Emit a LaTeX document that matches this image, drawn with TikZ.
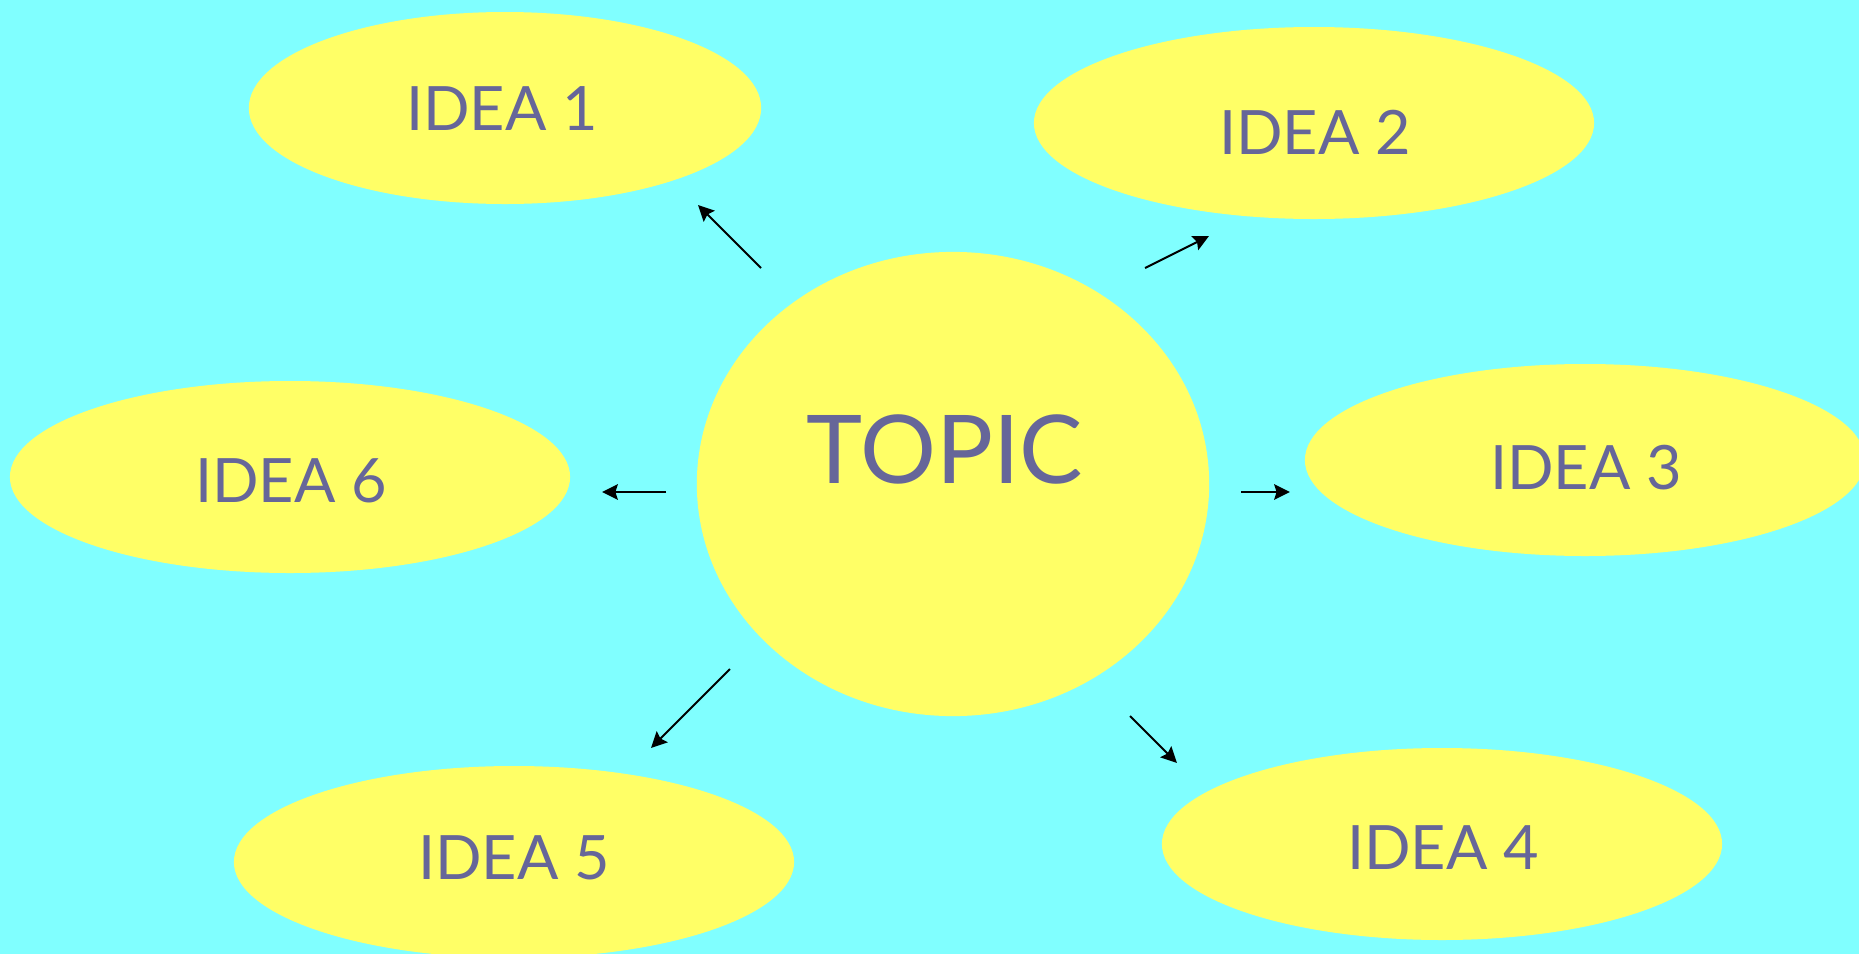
\documentclass[tikz,border=0pt]{standalone}
\usepackage{fontspec}
\setmainfont{Lato}
\usetikzlibrary{shapes.geometric,arrows.meta}
\definecolor{bgcyan}{HTML}{80FFFF}
\definecolor{ideayellow}{HTML}{FFFF66}
\definecolor{ideatext}{HTML}{666699}
\tikzset{
  idea/.style={ellipse, fill=ideayellow, inner sep=0pt, minimum width=159.3pt, minimum height=54.6pt},
  link/.style={line width=0.57pt, -{Stealth[length=4.5pt, width=4.4pt, inset=0.7pt]}},
  lbl/.style={text=ideatext, inner sep=0pt, font=\fontsize{17.4pt}{20pt}\selectfont},
  toplbl/.style={text=ideatext, inner sep=0pt, font=\fontsize{27pt}{32pt}\selectfont}
}
\begin{document}
\begin{tikzpicture}[x=0.01cm, y=-0.01cm]
\fill[bgcyan] (0,0) rectangle (1859,954);
\useasboundingbox (0,0) rectangle (1859,954);
% ellipses
\node[idea, minimum width=145.7pt] (i1) at (505,108) {};
\node[idea] (i2) at (1314,123) {};
\node[idea] (i3) at (1585,460) {};
\node[idea] (i6) at (290,477) {};
\node[idea] (i5) at (514,862) {};
\node[idea] (i4) at (1442,844) {};
\node[idea, minimum width=145.7pt, minimum height=132pt] (topic) at (953,484) {};
% labels
\node[lbl] (t1) at (502,109) {IDEA 1};
\node[lbl] (t2) at (1315,132) {IDEA 2};
\node[lbl] (t3) at (1586,468) {IDEA 3};
\node[lbl] (t6) at (291,481) {IDEA 6};
\node[lbl] (t5) at (514,858) {IDEA 5};
\node[lbl] (t4) at (1443,848) {IDEA 4};
\node[toplbl] (tt) at (945,449) {TOPIC};
% arrow end points
\coordinate (a1s) at (761,268); \coordinate (a1e) at (698,205);
\coordinate (a2s) at (1145,268); \coordinate (a2e) at (1209,236);
\coordinate (a3s) at (1241,492); \coordinate (a3e) at (1290,492);
\coordinate (a4s) at (1130,716); \coordinate (a4e) at (1177,763);
\coordinate (a5s) at (730,669); \coordinate (a5e) at (651,748);
\coordinate (a6s) at (666,492); \coordinate (a6e) at (602,492);
\draw[link] (a1s) -- (a1e);
\draw[link] (a2s) -- (a2e);
\draw[link] (a3s) -- (a3e);
\draw[link] (a4s) -- (a4e);
\draw[link] (a5s) -- (a5e);
\draw[link] (a6s) -- (a6e);
\end{tikzpicture}
\end{document}
